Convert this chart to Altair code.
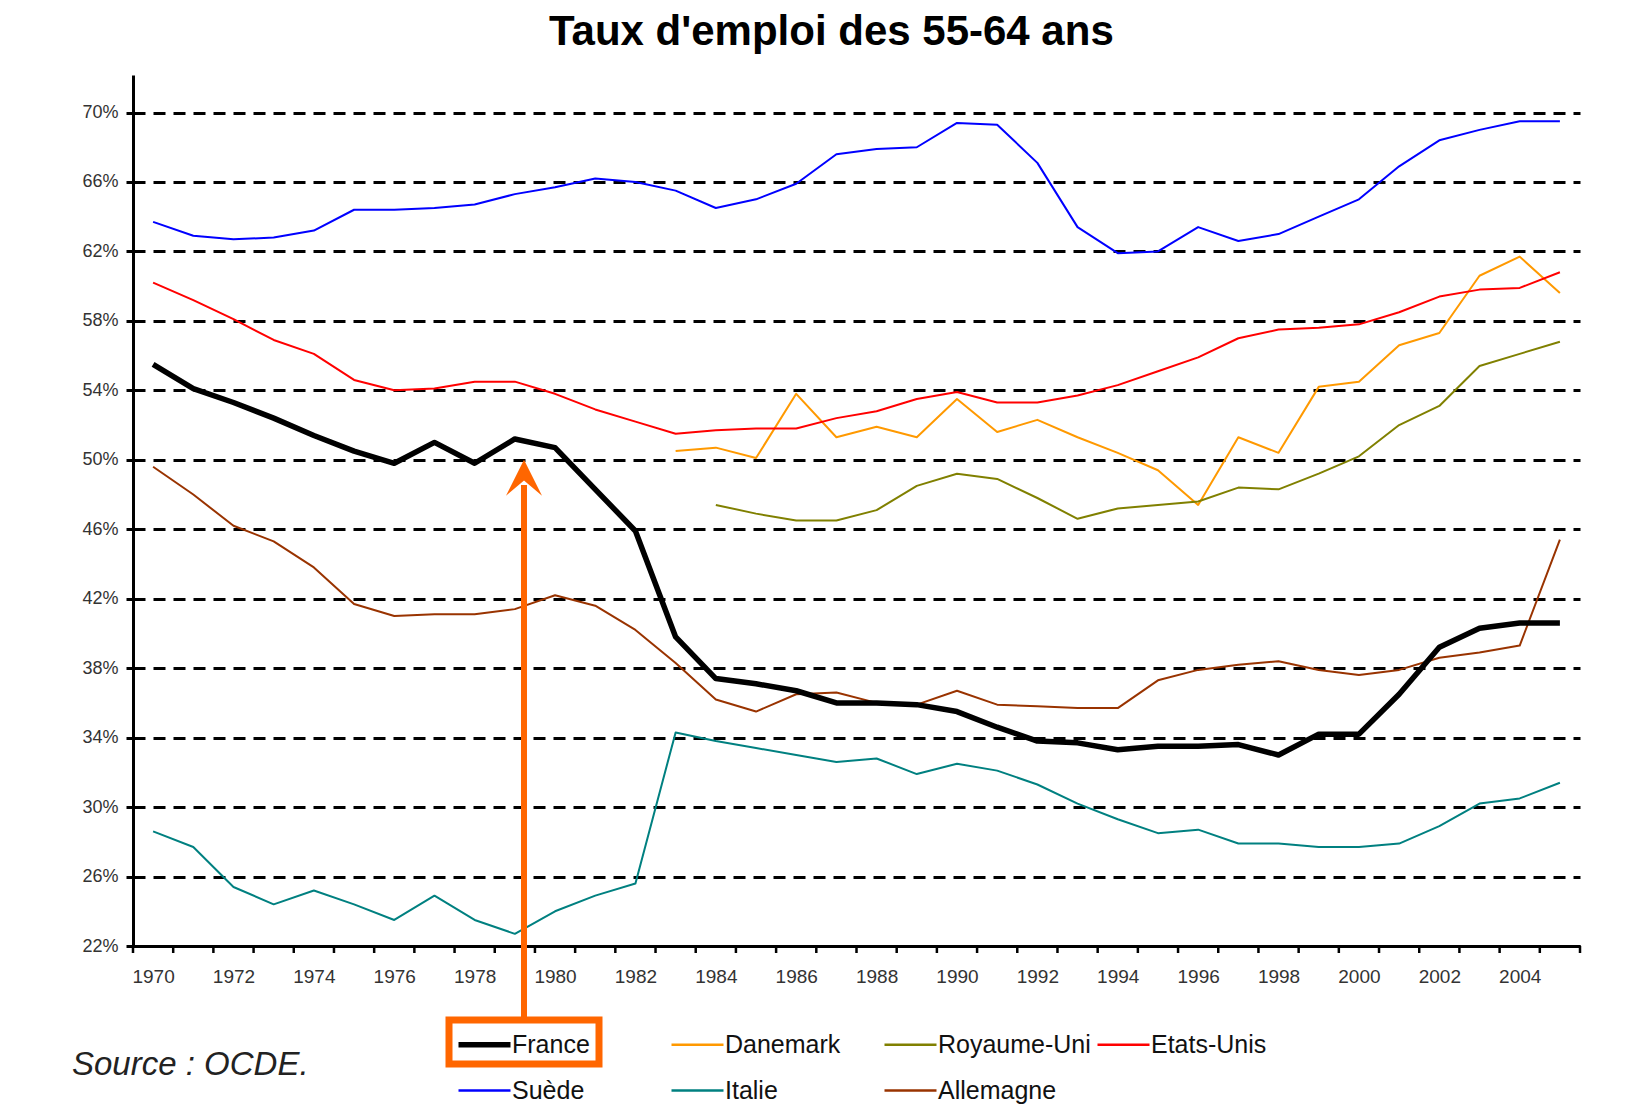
import altair as alt
import pandas as pd

years = list(range(1970, 2006))

france = [55.5, 54.1, 53.3, 52.4, 51.4, 50.5, 49.8, 51.0, 49.8, 51.2,
          50.7, 48.3, 45.9, 39.8, 37.4, 37.1, 36.7, 36.0, 36.0, 35.9,
          35.5, 34.6, 33.8, 33.7, 33.3, 33.5, 33.5, 33.6, 33.0, 34.2,
          34.2, 36.5, 39.2, 40.3, 40.6, 40.6]
suede = [63.7, 62.9, 62.7, 62.8, 63.2, 64.4, 64.4, 64.5, 64.7, 65.3,
         65.7, 66.2, 66.0, 65.5, 64.5, 65.0, 65.9, 67.6, 67.9, 68.0,
         69.4, 69.3, 67.1, 63.4, 61.9, 62.0, 63.4, 62.6, 63.0, 64.0,
         65.0, 66.9, 68.4, 69.0, 69.5, 69.5]
etats_unis = [60.2, 59.2, 58.1, 56.9, 56.1, 54.6, 54.0, 54.1, 54.5, 54.5,
              53.8, 52.9, 52.2, 51.5, 51.7, 51.8, 51.8, 52.4, 52.8, 53.5,
              53.9, 53.3, 53.3, 53.7, 54.3, 55.1, 55.9, 57.0, 57.5, 57.6,
              57.8, 58.5, 59.4, 59.8, 59.9, 60.8]
danemark = [None] * 13 + [50.5, 50.7, 50.1, 53.8, 51.3, 51.9, 51.3, 53.5, 51.6, 52.3,
                          51.3, 50.4, 49.4, 47.4, 51.3, 50.4, 54.2, 54.5, 56.6, 57.3,
                          60.6, 61.7, 59.6]
royaume_uni = [None] * 14 + [47.4, 46.9, 46.5, 46.5, 47.1, 48.5, 49.2, 48.9, 47.8, 46.6,
                             47.2, 47.4, 47.6, 48.4, 48.3, 49.2, 50.2, 52.0, 53.1, 55.4,
                             56.1, 56.8]
allemagne = [49.6, 48.0, 46.2, 45.3, 43.8, 41.7, 41.0, 41.1, 41.1, 41.4,
             42.2, 41.6, 40.2, 38.3, 36.2, 35.5, 36.5, 36.6, 36.0, 35.9,
             36.7, 35.9, 35.8, 35.7, 35.7, 37.3, 37.9, 38.2, 38.4, 37.9,
             37.6, 37.9, 38.6, 38.9, 39.3, 45.4]
italie = [28.6, 27.7, 25.4, 24.4, 25.2, 24.4, 23.5, 24.9, 23.5, 22.7,
          24.0, 24.9, 25.6, 34.3, 33.8, 33.4, 33.0, 32.6, 32.8, 31.9,
          32.5, 32.1, 31.3, 30.2, 29.3, 28.5, 28.7, 27.9, 27.9, 27.7,
          27.7, 27.9, 28.9, 30.2, 30.5, 31.4]

countries = ["France", "Danemark", "Royaume-Uni", "Etats-Unis", "Suède", "Italie", "Allemagne"]
colors = ["#000000", "#FF9900", "#808000", "#FF0000", "#0000FF", "#008080", "#993300"]

y_ticks = list(range(22, 71, 4))
x_labels = list(range(1970, 2005, 2))

series = {
    "Danemark": danemark, "Royaume-Uni": royaume_uni, "Etats-Unis": etats_unis,
    "Suède": suede, "Italie": italie, "Allemagne": allemagne, "France": france,
}
rows = []
for name, vals in series.items():
    for yr, v in zip(years, vals):
        if v is not None:
            rows.append({"annee": yr, "pays": name, "taux": v})
df = pd.DataFrame(rows)

W, H = 1447, 871
FONT = "Liberation Sans"

xscale = alt.Scale(domain=[years[0] - 0.5, years[-1] + 0.5], nice=False, zero=False)
yscale = alt.Scale(domain=[22, 72.16], nice=False, zero=False)

x_enc = alt.X("annee:Q", scale=xscale, title=None,
              axis=alt.Axis(values=x_labels, format="d", grid=False, ticks=False, tickSize=0,
                            labelFont=FONT, labelFontSize=19, labelColor="#333333",
                            labelPadding=21, domainColor="#000000", domainWidth=3,
                            labelFlush=False))
y_enc = alt.Y("taux:Q", scale=yscale, title=None,
              axis=alt.Axis(values=y_ticks, labelExpr="datum.value + '%'", grid=True,
                            gridColor="#000000", gridWidth=3, gridDash=[12, 8],
                            tickColor="#000000", tickWidth=3, tickSize=7,
                            domainColor="#000000", domainWidth=3,
                            labelFont=FONT, labelFontSize=18, labelColor="#333333",
                            labelPadding=8))
color_enc = alt.Color("pays:N", scale=alt.Scale(domain=countries, range=colors),
                      legend=alt.Legend(title=None, orient="none", legendX=339, legendY=957,
                                        direction="horizontal", columns=4, gridAlign="all",
                                        symbolType="stroke", symbolSize=2704,
                                        symbolStrokeWidth=alt.ExprRef(
                                            expr="datum.value === 'France' ? 5.5 : 2.5"),
                                        labelFont=FONT, labelFontSize=25, labelColor="#111111",
                                        labelOffset=15, columnPadding=1, rowPadding=20,
                                        padding=0))

others = alt.Chart(df).transform_filter(alt.datum.pays != "France").mark_line(
    strokeWidth=2, strokeJoin="round").encode(x=x_enc, y=y_enc, color=color_enc)
france_line = alt.Chart(df).transform_filter(alt.datum.pays == "France").mark_line(
    strokeWidth=5.5, strokeJoin="round").encode(x=x_enc, y=y_enc, color=color_enc)

# category boundary ticks on the x axis (Excel-style)
bounds = pd.DataFrame({"b": [y - 0.5 for y in years] + [years[-1] + 0.5]})
xticks = alt.Chart(bounds).mark_rule(color="#000000", strokeWidth=2.5).encode(
    x=alt.X("b:Q", scale=xscale),
    y=alt.value(H), y2=alt.value(H + 7),
)

title_df = pd.DataFrame({"t": ["Taux d'emploi des 55-64 ans"]})
title = alt.Chart(title_df).mark_text(font=FONT, fontSize=42, fontWeight="bold",
                                      align="left", baseline="alphabetic", color="#000000").encode(
    text="t:N", x=alt.value(416), y=alt.value(-30))

src_df = pd.DataFrame({"t": ["Source : OCDE."]})
source = alt.Chart(src_df).mark_text(font=FONT, fontSize=33, fontStyle="italic",
                                     align="left", baseline="alphabetic", color="#222222").encode(
    text="t:N", x=alt.value(-61), y=alt.value(1000))

ORANGE = "#FF6600"
one = pd.DataFrame({"k": [0]})
shaft = alt.Chart(one).mark_rule(color=ORANGE, strokeWidth=6).encode(
    x=alt.value(391), y=alt.value(410), y2=alt.value(945))
head = alt.Chart(one).mark_point(shape="M0,-1L1,1L0,0.15L-1,1Z", filled=True, size=1296,
                                 color=ORANGE, opacity=1, strokeWidth=0).encode(
    x=alt.value(391), y=alt.value(402.7))
box = alt.Chart(one).mark_rect(fill="transparent", stroke=ORANGE, strokeWidth=7).encode(
    x=alt.value(316), x2=alt.value(466), y=alt.value(945), y2=alt.value(989))

chart = alt.layer(others, france_line, xticks, title, source, shaft, head, box).properties(
    width=W, height=H,
    autosize=alt.AutoSizeParams(type="none"),
    padding={"left": 125, "top": 67, "right": 40, "bottom": 166},
    background="#FFFFFF",
).configure_view(stroke=None)

chart.save("out.html", embed_options={"renderer": "svg", "actions": False})
